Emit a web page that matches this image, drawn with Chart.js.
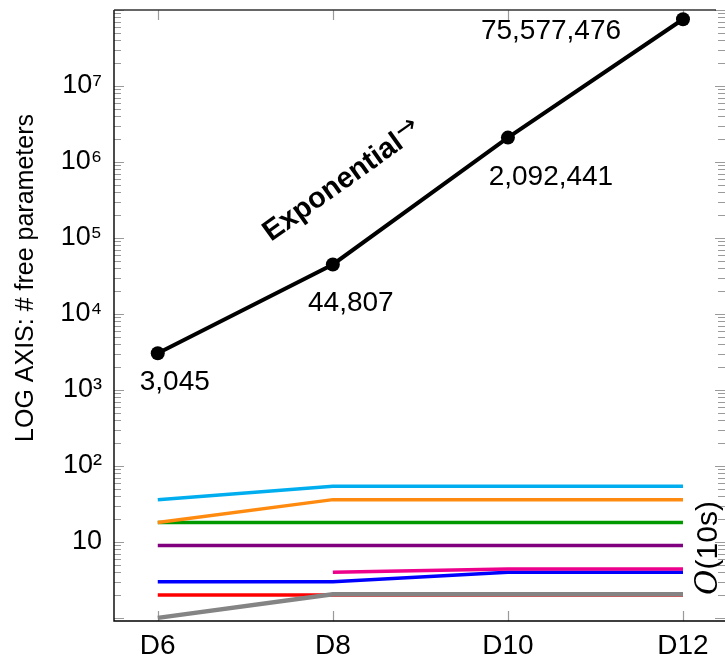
<!DOCTYPE html>
<html><head><meta charset="utf-8">
<script src="https://cdn.jsdelivr.net/npm/chart.js@4"></script>
<style>html,body{margin:0;padding:0;background:#fff;overflow:hidden}canvas{display:block}</style>
</head><body>
<canvas id="c" width="725" height="659"></canvas>
<script>
const categories = ['D6', 'D8', 'D10', 'D12'];
const xPositions = [6, 8, 10, 12];
const exponentialCounts = [3045, 44807, 2092441, 75577476];
const exponentialLabels = ['3,045', '44,807', '2,092,441', '75,577,476'];
const cyanSeries = [36, 54, 54, 54];
const orangeSeries = [18, 36, 36, 36];
const greenSeries = [18, 18, 18, 18];
const purpleSeries = [9, 9, 9, 9];
const magentaSeries = [null, 4.0, 4.4, 4.4];
const blueSeries = [3, 3, 4, 4];
const redSeries = [2, 2, 2, 2];
const graySeries = [1, 2.05, 2.05, 2.05];
const yTickValues = [10, 100, 1e3, 1e4, 1e5, 1e6, 1e7];
const yTickLabels = ['10', '10²', '10³', '10⁴', '10⁵', '10⁶', '10⁷'];
const yAxisTitle = 'LOG AXIS: # free parameters';
const trendLabel = 'Exponential';
const groupLabel = '(10s)';

const FONT = '"Liberation Sans", Arial, sans-serif';
Chart.defaults.font.family = FONT;
Chart.defaults.color = '#000';

const toPoints = s => xPositions.map((x, i) => ({x: x, y: s[i]}));
const flat = (data, color, w) => ({
  data: toPoints(data), borderColor: color, backgroundColor: color,
  borderWidth: w || 3.5, pointRadius: 0, tension: 0, spanGaps: false, clip: false
});

const labelOffsets = [[17, 29], [18, 39], [43, 40], [-132, 12]];

const decor = {
  id: 'decor',
  beforeDatasetsDraw(chart) {
    const {ctx, chartArea: a, scales: {x, y}} = chart;
    ctx.save();
    ctx.strokeStyle = '#9a9a9a';
    ctx.lineWidth = 1.2;
    ctx.beginPath();
    for (let k = 0; k <= 8; k++) {
      for (let m = 1; m <= 9; m++) {
        const v = m * Math.pow(10, k);
        if (v < y.min || v > y.max) continue;
        const py = Math.round(y.getPixelForValue(v)) + 0.5;
        const len = m === 1 ? 10 : 7;
        ctx.moveTo(a.left, py); ctx.lineTo(a.left + len, py);
        ctx.moveTo(a.right, py); ctx.lineTo(a.right - len, py);
      }
    }
    xPositions.forEach(v => {
      const px = Math.round(x.getPixelForValue(v)) + 0.5;
      ctx.moveTo(px, a.bottom); ctx.lineTo(px, a.bottom - 10);
      ctx.moveTo(px, a.top); ctx.lineTo(px, a.top + 10);
    });
    ctx.stroke();
    ctx.lineWidth = 1.4;
    ctx.strokeStyle = '#000';
    ctx.beginPath();
    ctx.moveTo(a.left, a.top); ctx.lineTo(a.left, a.bottom); ctx.lineTo(a.right, a.bottom);
    ctx.stroke();
    ctx.strokeStyle = '#333';
    ctx.beginPath();
    ctx.moveTo(a.left, a.top); ctx.lineTo(a.right - 9, a.top);
    ctx.stroke();
    ctx.restore();
  },
  afterDatasetsDraw(chart) {
    const {ctx, scales: {x, y}} = chart;
    ctx.save();
    ctx.fillStyle = '#000';
    ctx.font = '28px ' + FONT;
    ctx.textAlign = 'center';
    ctx.textBaseline = 'middle';
    exponentialCounts.forEach((v, i) => {
      const px = x.getPixelForValue(xPositions[i]);
      const py = y.getPixelForValue(v);
      ctx.fillText(exponentialLabels[i], px + labelOffsets[i][0], py + labelOffsets[i][1]);
    });
    ctx.save();
    ctx.translate(33, 278);
    ctx.rotate(-Math.PI / 2);
    ctx.font = '25px ' + FONT;
    ctx.textAlign = 'center';
    ctx.textBaseline = 'alphabetic';
    ctx.fillText(yAxisTitle, 0, 0);
    ctx.restore();
    ctx.save();
    ctx.translate(271, 242);
    ctx.rotate(-35.5 * Math.PI / 180);
    ctx.font = 'bold 29px ' + FONT;
    ctx.textAlign = 'left';
    ctx.textBaseline = 'alphabetic';
    ctx.fillText(trendLabel, 0, 0);
    const w = ctx.measureText(trendLabel).width;
    ctx.font = '26px "DejaVu Sans", ' + FONT;
    ctx.fillText('→', w + 1, -7);
    ctx.restore();
    ctx.save();
    ctx.translate(717, 548);
    ctx.rotate(-Math.PI / 2);
    ctx.textBaseline = 'alphabetic';
    ctx.textAlign = 'left';
    ctx.font = 'italic 31px "DejaVu Serif", serif';
    const wo = ctx.measureText('O').width;
    ctx.font = '30px ' + FONT;
    const wr = ctx.measureText(groupLabel).width;
    const start = -(wo + wr) / 2;
    ctx.font = 'italic 31px "DejaVu Serif", serif';
    ctx.fillText('O', start, 0);
    ctx.font = '30px ' + FONT;
    ctx.fillText(groupLabel, start + wo, 0);
    ctx.restore();
    ctx.restore();
  }
};

new Chart(document.getElementById('c'), {
  type: 'line',
  data: {
    datasets: [
      {
        data: toPoints(exponentialCounts), borderColor: '#000', backgroundColor: '#000',
        borderWidth: 4, pointRadius: 7, pointBorderWidth: 0, pointBackgroundColor: '#000',
        tension: 0, clip: false
      },
      flat(graySeries, '#848484', 4.5),
      flat(magentaSeries, '#ec008c'),
      flat(blueSeries, '#0000ff'),
      flat(redSeries, '#ff0000'),
      flat(purpleSeries, '#800080'),
      flat(orangeSeries, '#ff8a10'),
      flat(greenSeries, '#009a00'),
      flat(cyanSeries, '#00aeef')
    ]
  },
  options: {
    responsive: false, animation: false, devicePixelRatio: 1,
    layout: {autoPadding: false, padding: {top: 10, right: 0, left: 0, bottom: 0}},
    plugins: {legend: {display: false}, tooltip: {enabled: false}},
    scales: {
      x: {
        type: 'linear', min: 5.5, max: 12.48,
        grid: {display: false, drawTicks: false}, border: {display: false},
        afterBuildTicks: s => { s.ticks = xPositions.map(v => ({value: v})); },
        ticks: {callback: (v, i) => categories[i], font: {size: 28}, color: '#000', padding: 8, maxRotation: 0, autoSkip: false},
        afterFit: s => { s.height = 38; s.paddingLeft = 0; s.paddingRight = 0; }
      },
      y: {
        type: 'logarithmic', min: 0.91, max: 1e8,
        grid: {display: false, drawTicks: false}, border: {display: false},
        afterBuildTicks: s => { s.ticks = yTickValues.map(v => ({value: v, major: true})); },
        ticks: {callback: (v, i) => yTickLabels[i], font: {size: 27}, color: '#000', padding: 12, autoSkip: false},
        afterFit: s => { s.width = 114; s.paddingTop = 0; s.paddingBottom = 0; }
      }
    }
  },
  plugins: [decor]
});
</script>
</body></html>
